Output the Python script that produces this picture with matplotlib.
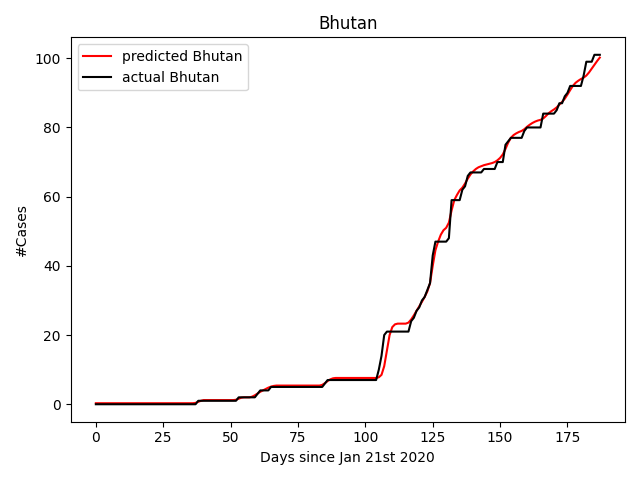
import matplotlib
matplotlib.use('Agg')
import matplotlib.pyplot as plt

country = 'Bhutan'

# actual confirmed cases, one value per day since Jan 21st 2020
actual = ([0] * 38 + [1] * 15 + [2] * 7 + [3] + [4] * 4 + [5] * 20 + [6] + [7] * 19
          + [10, 14, 20] + [21] * 9
          + [24, 25, 27, 28, 30, 31, 33, 35, 43]
          + [47] * 5 + [48] + [59] * 4 + [62, 63, 66] + [67] * 5 + [68] * 5
          + [70] * 3 + [75, 76] + [77] * 5 + [79] + [80] * 6 + [84] * 5
          + [85, 87, 87, 89, 90] + [92] * 5 + [95] + [99] * 3 + [101] * 3)

# model prediction
predicted = ([0.3] * 37
             + [0.4, 0.7, 1.0] + [1.2] * 12
             + [1.3, 1.6, 1.9, 2.0, 2.0, 2.0, 2.2, 2.6, 3.1, 3.6, 4.0, 4.4, 4.8, 5.1, 5.3]
             + [5.4] * 17
             + [5.6, 6.1, 6.7, 7.2, 7.5] + [7.6] * 16
             + [7.8, 8.5, 11.0, 15.5, 20.0, 22.3, 23.1, 23.3, 23.3, 23.3, 23.3, 23.6,
                24.5, 25.7, 27.0, 28.3, 29.6, 31.0, 32.6, 35.0, 40.0, 44.5, 47.0, 49.0,
                50.3, 51.0, 52.5, 56.0, 59.0, 60.5, 61.8, 62.6, 63.8, 65.2, 66.4, 67.3,
                68.0, 68.5, 68.8, 69.1, 69.3, 69.5, 69.7, 70.0, 70.5, 71.2, 72.2, 73.8,
                75.6, 77.0, 77.8, 78.3, 78.7, 79.0, 79.5, 80.2, 80.8, 81.3, 81.7, 82.0,
                82.2, 82.6, 83.3, 84.1, 84.7, 85.2, 85.8, 86.6, 87.4, 88.3, 89.5, 90.8,
                92.0, 92.9, 93.5, 94.0, 94.4, 95.0, 95.9, 97.0, 98.1, 99.2, 100.2])

days = list(range(len(actual)))

plt.figure(figsize=(6.4, 4.8), dpi=100)
plt.plot(days, predicted, color='red', label='predicted ' + country)
plt.plot(days, actual, color='black', label='actual ' + country)
plt.xlabel('Days since Jan 21st 2020')
plt.ylabel('#Cases')
plt.title(country)
plt.legend(loc='upper left')
plt.tight_layout()
plt.savefig('out.png')
